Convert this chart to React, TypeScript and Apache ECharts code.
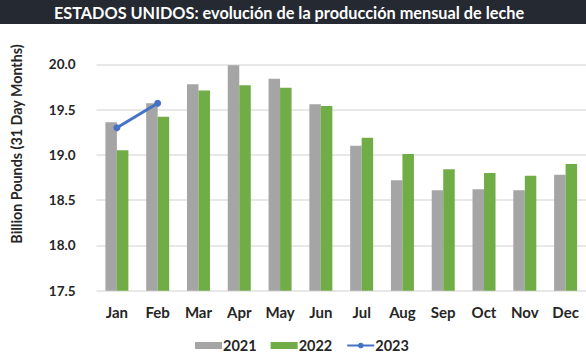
import React, { useEffect, useRef } from "react";
import * as echarts from "echarts";

const months = ["Jan", "Feb", "Mar", "Apr", "May", "Jun", "Jul", "Aug", "Sep", "Oct", "Nov", "Dec"];
const values2021 = [19.36, 19.57, 19.78, 19.99, 19.84, 19.56, 19.1, 18.72, 18.61, 18.62, 18.61, 18.78];
const values2022 = [19.05, 19.42, 19.71, 19.77, 19.74, 19.54, 19.19, 19.01, 18.84, 18.8, 18.77, 18.9];
const values2023 = [19.3, 19.57];
const titleText = "ESTADOS UNIDOS: evolución de la producción mensual de leche";
const yAxisTitle = "Billion Pounds (31 Day Months)";

export default function App() {
  const ref = useRef<HTMLDivElement>(null);
  useEffect(() => {
    if (!ref.current) return;
    const chart = echarts.init(ref.current, null, { renderer: "svg" });
    const font = "Lato, 'Open Sans', sans-serif";
    chart.setOption({
      animation: false,
      backgroundColor: "#ffffff",
      textStyle: { fontFamily: font },
      graphic: [
        { type: "rect", left: 0, top: 0, shape: { width: 586, height: 24 }, style: { fill: "#252931" }, z: 10 },
        {
          type: "text",
          x: 289,
          y: 12,
          z: 11,
          style: {
            text: titleText,
            fill: "#ffffff",
            font: "bold 16.3px " + font,
            align: "center",
            verticalAlign: "middle",
          },
        },
        {
          type: "text",
          x: 16,
          y: 144,
          rotation: Math.PI / 2,
          style: {
            text: yAxisTitle,
            fill: "#262626",
            font: "bold 14.3px " + font,
            align: "center",
            verticalAlign: "middle",
          },
        },
      ],
      grid: { left: 96.5, right: -4, top: 64.3, bottom: 70.3, containLabel: false },
      legend: {
        bottom: 3,
        left: 190,
        itemWidth: 27,
        itemHeight: 7,
        itemGap: 14,
        textStyle: {
          fontFamily: font,
          fontWeight: "bold",
          fontSize: 14.5,
          color: "#262626",
          padding: [0, 0, 0, -4],
        },
        data: [
          { name: "2021", icon: "rect" },
          { name: "2022", icon: "rect" },
          { name: "2023" },
        ],
      },
      xAxis: {
        type: "category",
        data: months,
        axisLine: { show: false },
        axisTick: { show: false },
        axisLabel: { fontFamily: font, fontWeight: "bold", fontSize: 15, color: "#262626", margin: 14 },
      },
      yAxis: {
        type: "value",
        min: 17.5,
        max: 20,
        interval: 0.5,
        axisLine: { show: false },
        axisTick: { show: false },
        axisLabel: {
          fontFamily: font,
          fontWeight: "bold",
          fontSize: 13.5,
          color: "#262626",
          margin: 21,
          formatter: (v: number) => v.toFixed(1),
        },
        splitLine: { lineStyle: { color: "#e0e0e0", width: 1.5 } },
      },
      series: [
        {
          name: "2021",
          type: "bar",
          data: values2021,
          barWidth: 11.5,
          barGap: "0%",
          itemStyle: { color: "#a5a5a5" },
        },
        {
          name: "2022",
          type: "bar",
          data: values2022,
          barWidth: 11.5,
          barGap: "0%",
          itemStyle: { color: "#70ad47" },
        },
        {
          name: "2023",
          type: "line",
          data: values2023,
          symbol: "circle",
          symbolSize: 7,
          lineStyle: { color: "#4472c4", width: 3 },
          itemStyle: { color: "#4472c4" },
          z: 5,
        },
      ],
    });
    return () => chart.dispose();
  }, []);
  return <div ref={ref} style={{ width: 586, height: 361, position: "absolute", left: 0, top: 0 }} />;
}
